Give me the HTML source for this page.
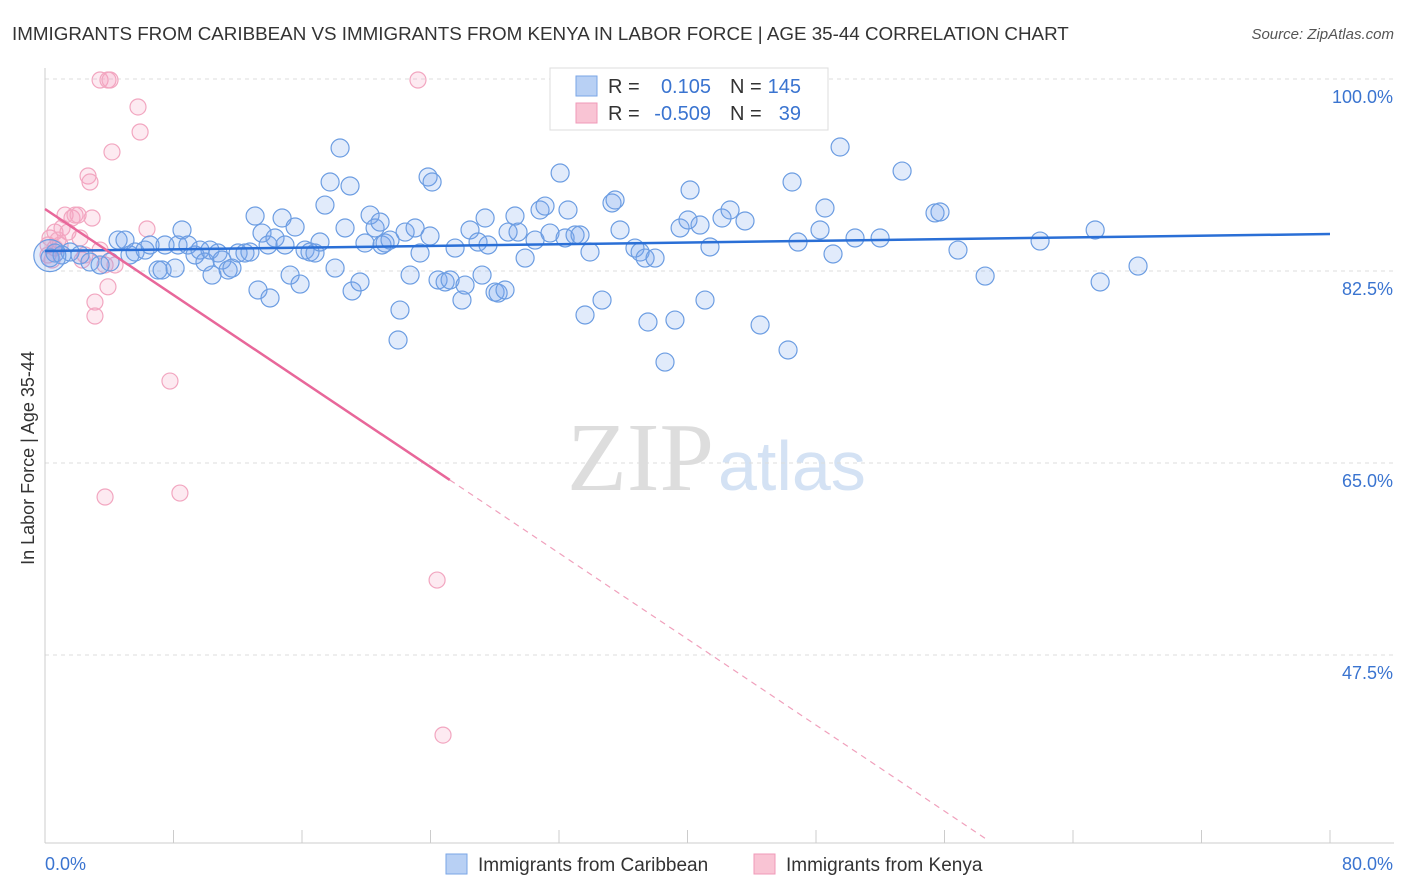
<!DOCTYPE html>
<html><head><meta charset="utf-8"><style>
body{margin:0;background:#fff;font-family:"Liberation Sans",sans-serif;}
svg{display:block}
</style></head><body>
<svg id="chart" width="1406" height="892" xmlns="http://www.w3.org/2000/svg">
<text x="12" y="40" font-size="18.8" fill="#333">IMMIGRANTS FROM CARIBBEAN VS IMMIGRANTS FROM KENYA IN LABOR FORCE | AGE 35-44 CORRELATION CHART</text>
<text x="1394" y="39" font-size="15" fill="#555" font-style="italic" text-anchor="end">Source: ZipAtlas.com</text>
<text x="714" y="490" font-size="98" fill="#ddd" text-anchor="end" font-family="Liberation Serif,serif">ZIP</text>
<text x="718" y="490" font-size="70" fill="#d4e2f4">atlas</text>
<g id="grid"></g><g id="axes"></g><g id="pink"></g><g id="blue"></g><g id="trend"></g>
<text x="34" y="458" font-size="18" fill="#333" text-anchor="middle" transform="rotate(-90 34 458)">In Labor Force | Age 35-44</text>
<g>
<rect x="550" y="68" width="278" height="62" fill="#fff" stroke="#ddd"/>
<rect x="576" y="76" width="21" height="20" fill="#b8d0f4" stroke="#7aa6e6"/>
<rect x="576" y="103" width="21" height="20" fill="#f9c4d4" stroke="#f09ab8"/>
<text x="608" y="93" font-size="20" fill="#333">R =</text><text x="711" y="93" font-size="20" fill="#3a74d0" text-anchor="end">0.105</text>
<text x="730" y="93" font-size="20" fill="#333">N =</text><text x="801" y="93" font-size="20" fill="#3a74d0" text-anchor="end">145</text>
<text x="608" y="120" font-size="20" fill="#333">R =</text><text x="711" y="120" font-size="20" fill="#3a74d0" text-anchor="end">-0.509</text>
<text x="730" y="120" font-size="20" fill="#333">N =</text><text x="801" y="120" font-size="20" fill="#3a74d0" text-anchor="end">39</text>
</g>
<g>
<rect x="446" y="854" width="21" height="20" fill="#b8d0f4" stroke="#7aa6e6"/>
<text x="478" y="871" font-size="19" fill="#333">Immigrants from Caribbean</text>
<rect x="754" y="854" width="21" height="20" fill="#f9c4d4" stroke="#f09ab8"/>
<text x="786" y="871" font-size="19" fill="#333">Immigrants from Kenya</text>
</g>
</svg>
<script>
const blueX=[0.31,0.62,1.06,1.56,2.18,2.80,3.43,4.05,4.55,4.98,5.29,5.61,6.23,6.54,7.04,7.29,7.47,8.10,8.28,8.53,8.90,9.34,9.65,9.96,10.27,10.40,10.77,11.02,11.40,11.64,12.02,12.45,12.76,13.08,13.26,13.51,13.89,14.01,14.32,14.76,14.94,15.26,15.57,15.88,16.19,16.50,16.81,17.12,17.43,17.75,18.06,18.37,18.68,18.99,19.12,19.61,19.92,20.24,20.55,20.86,20.98,21.17,21.48,22.10,21.98,22.42,22.73,23.04,23.35,23.85,24.10,23.97,24.47,24.91,25.22,25.53,25.96,26.15,26.46,26.96,27.21,27.40,27.58,28.02,28.21,28.64,28.83,29.26,29.45,29.89,30.51,30.82,31.13,31.44,32.07,32.38,32.56,33.00,33.31,33.62,33.93,34.68,35.30,35.49,35.80,36.73,37.05,37.36,37.54,37.98,38.60,39.22,39.54,40.03,40.16,40.78,41.09,41.40,42.15,42.65,43.58,44.52,46.26,46.51,46.88,48.25,48.56,49.06,49.50,50.43,51.99,53.36,55.41,55.72,56.84,58.53,61.95,65.38,65.69,68.05];
const blueY=[83.7,84.14,83.96,84.23,83.96,83.32,83.05,83.32,85.32,85.32,83.96,84.23,84.41,84.87,82.59,82.59,84.87,82.77,84.87,86.24,84.87,83.96,84.41,83.32,84.41,82.13,84.14,83.50,82.59,82.77,84.14,84.14,84.23,87.51,80.77,85.96,84.87,80.04,85.51,87.33,84.87,82.13,86.51,81.31,84.41,84.23,84.14,85.14,88.51,90.61,82.77,93.71,86.42,90.25,80.68,81.50,85.05,87.60,86.42,86.96,84.87,85.05,85.32,78.94,76.21,86.05,82.13,86.42,84.14,91.07,90.61,85.69,81.68,81.50,81.68,84.59,79.85,81.22,86.24,85.14,82.13,87.33,84.87,80.58,80.49,80.77,86.05,87.51,86.05,83.68,85.32,88.06,88.42,85.96,91.43,85.51,88.06,85.78,85.78,78.49,84.23,79.85,88.70,88.97,86.24,84.59,84.23,83.68,77.85,83.68,74.20,78.03,86.42,87.15,89.88,86.69,79.85,84.69,87.33,88.06,87.06,77.58,75.30,90.61,85.14,86.24,88.24,84.05,93.80,85.51,85.51,91.61,87.79,87.88,84.41,82.04,85.23,86.24,81.50,82.95];
const pinkX=[0.19,0.31,0.44,0.62,0.81,0.94,1.06,1.25,1.43,1.68,1.87,2.06,2.18,2.31,2.49,2.68,2.80,2.93,3.11,3.11,3.43,3.74,3.74,3.92,4.05,4.17,4.36,5.79,5.92,6.35,7.78,8.40,23.22,24.41,24.78,0.19,0.62,3.43,3.92];
const pinkY=[84.87,85.51,83.50,86.05,85.32,84.87,86.42,87.60,86.05,87.33,87.60,87.60,85.51,83.50,83.96,91.16,90.61,87.33,79.67,78.40,99.91,83.05,61.90,99.91,99.91,93.35,83.05,97.45,95.17,86.33,72.47,62.26,99.91,54.33,40.20,83.96,84.59,84.41,81.06];
const blueTrend=[84.32,85.87];
const pinkTrend=[88.15,-0.98];
const pinkSolidEnd=25.2, pinkDashEnd=58.7;
const yTicks=[100,82.5,65,47.5];
const yTickLabels=["100.0%","82.5%","65.0%","47.5%"];
const xTickVals=[0,8,16,24,32,40,48,56,64,72,80];

const NS="http://www.w3.org/2000/svg";
const sx=v=>45+v/80*1285;
const sy=v=>79+(100-v)/17.5*192;
function mk(tag,attrs,parent){const e=document.createElementNS(NS,tag);for(const k in attrs)e.setAttribute(k,attrs[k]);parent.appendChild(e);return e;}
const grid=document.getElementById('grid'),axes=document.getElementById('axes');
yTicks.forEach((t,i)=>{
  const l=mk('line',{x1:45,x2:1394,y1:sy(t),y2:sy(t),stroke:'#ddd','stroke-dasharray':'4,4'},grid);
  
  
  const tx=mk('text',{x:1393,y:sy(t)+24,'font-size':18,fill:'#3a74d0','text-anchor':'end'},grid);
  tx.textContent=yTickLabels[i];
  
  
});
const ax=mk('line',{x1:45,x2:1394,y1:843,y2:843,stroke:'#ccc'},axes);


const ay=mk('line',{x1:45,x2:45,y1:68,y2:843,stroke:'#ccc'},axes);


xTickVals.forEach(v=>{
  const t=mk('line',{x1:sx(v),x2:sx(v),y1:830,y2:843,stroke:'#ccc'},axes);
  
  
});
const xl=mk('text',{x:45,y:870,'font-size':18,fill:'#3a74d0'},axes);xl.textContent='0.0%';


const xr=mk('text',{x:1393,y:870,'font-size':18,fill:'#3a74d0','text-anchor':'end'},axes);xr.textContent='80.0%';


const pg=document.getElementById('pink'),bg=document.getElementById('blue');
pinkX.forEach((x,i)=>{
  const c=mk('circle',{cx:sx(x),cy:sy(pinkY[i]),r:8,fill:'rgba(244,160,190,0.22)',stroke:'#f2a6c0','stroke-width':1.2},pg);
  
  
});
blueX.forEach((x,i)=>{
  const c=mk('circle',{cx:sx(x),cy:sy(blueY[i]),r:9,fill:'rgba(120,165,235,0.22)',stroke:'#6c9de2','stroke-width':1.2},bg);
  
  
});
const big=mk('circle',{cx:sx(0.3),cy:sy(83.9),r:16,fill:'rgba(120,165,235,0.22)',stroke:'#6c9de2','stroke-width':1.2},bg);


const tg=document.getElementById('trend');
const bl=mk('line',{x1:sx(0),y1:sy(blueTrend[0]),x2:sx(80),y2:sy(blueTrend[1]),stroke:'#2a6fd6','stroke-width':2.5},tg);


const pf=x=>pinkTrend[0]+pinkTrend[1]*x;
const pl=mk('line',{x1:sx(0),y1:sy(pf(0)),x2:sx(pinkSolidEnd),y2:sy(pf(pinkSolidEnd)),stroke:'#e8679a','stroke-width':2.5},tg);


const pd=mk('line',{x1:sx(pinkSolidEnd),y1:sy(pf(pinkSolidEnd)),x2:sx(pinkDashEnd),y2:sy(pf(pinkDashEnd)),stroke:'#f0a0bc','stroke-width':1.2,'stroke-dasharray':'6,5'},tg);


</script>
</body></html>
